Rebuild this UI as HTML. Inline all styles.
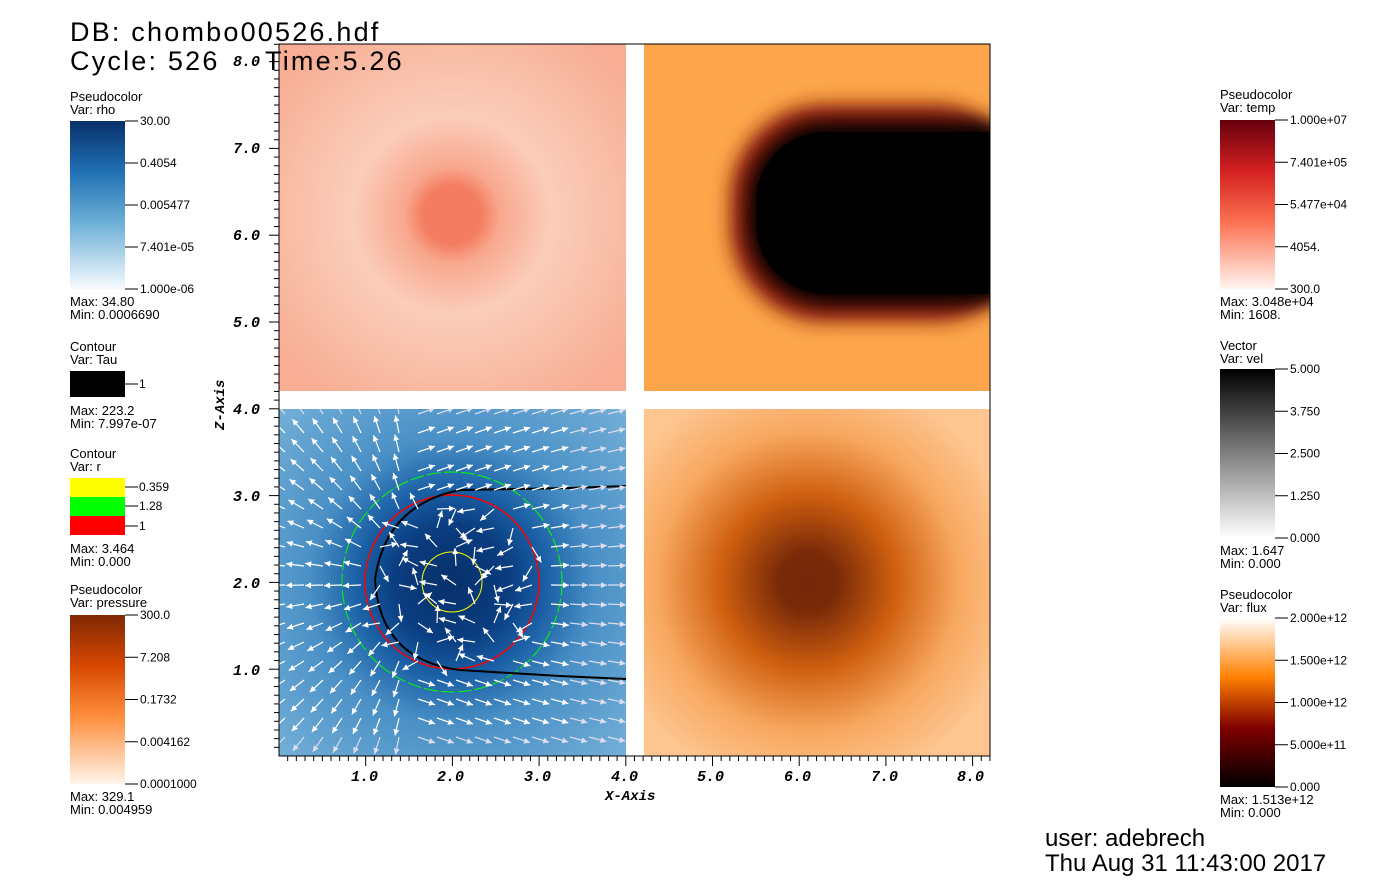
<!DOCTYPE html>
<html><head><meta charset="utf-8"><style>
body{margin:0;background:#fff;width:1395px;height:890px;overflow:hidden}
svg{display:block;font-family:"Liberation Sans",sans-serif}
.ax{font-family:"Liberation Mono",monospace;font-weight:bold;font-style:italic;font-size:15px}
.t{letter-spacing:2.2px}
</style></head><body>
<svg id="s" width="1395" height="890" xmlns="http://www.w3.org/2000/svg">
<defs>
<radialGradient id="gp" cx="452" cy="215" r="220" gradientUnits="userSpaceOnUse">
<stop offset="0" stop-color="#f47c60"/><stop offset="0.13" stop-color="#f47c60"/><stop offset="0.22" stop-color="#f8a88e"/><stop offset="0.45" stop-color="#fbcdbb"/><stop offset="0.7" stop-color="#f9bfa8"/><stop offset="1" stop-color="#f8ad94"/></radialGradient>
<radialGradient id="gb" cx="452" cy="582" r="260" gradientUnits="userSpaceOnUse">
<stop offset="0" stop-color="#08306b"/><stop offset="0.22" stop-color="#0a3d80"/><stop offset="0.36" stop-color="#1a5fa5"/><stop offset="0.55" stop-color="#4a90c6"/><stop offset="1" stop-color="#7ab4da"/></radialGradient>
<radialGradient id="gf" cx="808" cy="582" r="210" gradientUnits="userSpaceOnUse">
<stop offset="0" stop-color="#732608"/><stop offset="0.14" stop-color="#7a2a08"/><stop offset="0.42" stop-color="#d06010"/><stop offset="0.72" stop-color="#f8a860"/><stop offset="1" stop-color="#fdc590"/></radialGradient>
<linearGradient id="lrho" x1="0" y1="0" x2="0" y2="1"><stop offset="0" stop-color="#08306b"/><stop offset="0.3" stop-color="#2070b4"/><stop offset="0.6" stop-color="#6baed6"/><stop offset="1" stop-color="#f7fbff"/></linearGradient>
<linearGradient id="lpr" x1="0" y1="0" x2="0" y2="1"><stop offset="0" stop-color="#7f2704"/><stop offset="0.3" stop-color="#d94801"/><stop offset="0.6" stop-color="#fd8d3c"/><stop offset="1" stop-color="#fff5eb"/></linearGradient>
<linearGradient id="lt" x1="0" y1="0" x2="0" y2="1"><stop offset="0" stop-color="#67000d"/><stop offset="0.3" stop-color="#d42020"/><stop offset="0.6" stop-color="#fb7050"/><stop offset="1" stop-color="#fff5f0"/></linearGradient>
<linearGradient id="lv" x1="0" y1="0" x2="0" y2="1"><stop offset="0" stop-color="#000"/><stop offset="1" stop-color="#fff"/></linearGradient>
<linearGradient id="lf" x1="0" y1="0" x2="0" y2="1"><stop offset="0" stop-color="#fff"/><stop offset="0.35" stop-color="#ff8000"/><stop offset="0.65" stop-color="#800000"/><stop offset="1" stop-color="#000"/></linearGradient>
<filter id="bl"><feGaussianBlur stdDeviation="9"/></filter>
<clipPath id="ctr"><rect x="644" y="44" width="346" height="347"/></clipPath>
<clipPath id="cbl"><rect x="279" y="409" width="347" height="347"/></clipPath>
</defs>
<text class="t" x="70" y="41" font-size="27">DB: chombo00526.hdf</text>
<text class="t" x="70" y="70" font-size="27">Cycle: 526</text>
<rect x="279" y="44" width="347" height="347" fill="url(#gp)"/>
<rect x="644" y="44" width="346" height="347" fill="#fca54a"/>
<g clip-path="url(#ctr)">
<rect x="730" y="104" width="300" height="218" rx="95" fill="#8a1a08" filter="url(#bl)"/>
<rect x="748" y="122" width="300" height="182" rx="80" fill="#000" filter="url(#bl)"/>
<rect x="756" y="132" width="300" height="162" rx="70" fill="#000"/>
</g>
<rect x="279" y="409" width="347" height="347" fill="url(#gb)"/>
<rect x="644" y="409" width="346" height="347" fill="url(#gf)"/>
<g clip-path="url(#cbl)">
<circle cx="452" cy="582" r="110" fill="none" stroke="#00ff00" stroke-width="1" stroke-dasharray="14 3"/>
<circle cx="452" cy="582" r="87" fill="none" stroke="#ff0000" stroke-width="1.5"/>
<circle cx="452" cy="582" r="30" fill="none" stroke="#ffff00" stroke-width="1"/>
<path d="M626 486 L570 488 L460 490 Q385 505 375 580 Q380 660 460 670 L560 676 L626 679" fill="none" stroke="#000" stroke-width="2"/>
<g id="arr" stroke="#fff" fill="#fff" stroke-width="1.2"></g>
</g>
<text class="t" x="265" y="70" font-size="27">Time:5.26</text>
<g stroke="#000" fill="none"><path d="M279 44 V756 H990 V44 H279"/><g id="tk"></g></g>
<g class="ax">
<text x="233" y="66">8.0</text><text x="233" y="153">7.0</text><text x="233" y="240">6.0</text><text x="233" y="327">5.0</text><text x="233" y="414">4.0</text><text x="233" y="501">3.0</text><text x="233" y="588">2.0</text><text x="233" y="675">1.0</text>
<text x="351" y="781">1.0</text><text x="437" y="781">2.0</text><text x="524" y="781">3.0</text><text x="611" y="781">4.0</text><text x="697" y="781">5.0</text><text x="784" y="781">6.0</text><text x="871" y="781">7.0</text><text x="957" y="781">8.0</text>
<text x="605" y="800" font-size="14">X-Axis</text>
<text transform="translate(224,430) rotate(-90)" font-size="14">Z-Axis</text>
</g>
<g font-size="13">
<text x="70" y="101">Pseudocolor</text><text x="70" y="114">Var: rho</text>
<rect x="70" y="121" width="55" height="168" fill="url(#lrho)"/>
<text x="70" y="306">Max:  34.80</text><text x="70" y="319">Min:  0.0006690</text>
<text x="70" y="351">Contour</text><text x="70" y="364">Var: Tau</text>
<rect x="70" y="371" width="55" height="26" fill="#000"/>
<text x="70" y="415">Max:  223.2</text><text x="70" y="428">Min:  7.997e-07</text>
<text x="70" y="458">Contour</text><text x="70" y="471">Var: r</text>
<rect x="70" y="478" width="55" height="19" fill="#ffff00"/><rect x="70" y="497" width="55" height="19" fill="#00ff00"/><rect x="70" y="516" width="55" height="19" fill="#ff0000"/>
<text x="70" y="553">Max:  3.464</text><text x="70" y="566">Min:  0.000</text>
<text x="70" y="594">Pseudocolor</text><text x="70" y="607">Var: pressure</text>
<rect x="70" y="615" width="55" height="169" fill="url(#lpr)"/>
<text x="70" y="801">Max:  329.1</text><text x="70" y="814">Min:  0.004959</text>
<text x="1220" y="99">Pseudocolor</text><text x="1220" y="112">Var: temp</text>
<rect x="1220" y="120" width="55" height="169" fill="url(#lt)"/>
<text x="1220" y="306">Max:  3.048e+04</text><text x="1220" y="319">Min:  1608.</text>
<text x="1220" y="350">Vector</text><text x="1220" y="363">Var: vel</text>
<rect x="1220" y="369" width="55" height="169" fill="url(#lv)"/>
<text x="1220" y="555">Max:  1.647</text><text x="1220" y="568">Min:  0.000</text>
<text x="1220" y="599">Pseudocolor</text><text x="1220" y="612">Var: flux</text>
<rect x="1220" y="618" width="55" height="169" fill="url(#lf)"/>
<text x="1220" y="804">Max:  1.513e+12</text><text x="1220" y="817">Min:  0.000</text>
</g>
<g font-size="12" id="lg"></g>
<text x="1045" y="846" font-size="24">user: adebrech</text>
<text x="1045" y="871" font-size="24">Thu Aug 31 11:43:00 2017</text>
</svg>
<script>
var NS="http://www.w3.org/2000/svg";
function el(p,t,a,txt){var e=document.createElementNS(NS,t);for(var k in a)e.setAttribute(k,a[k]);if(txt)e.textContent=txt;p.appendChild(e);return e;}
var tk=document.getElementById('tk');
for(var i=1;i<=82;i++){var x=279+i*86.7/10,len=(i%10==0)?10:5;el(tk,'line',{x1:x,y1:756,x2:x,y2:756+len});}
for(var i=1;i<=82;i++){var y=756-i*86.8/10,len=(i%10==0)?10:5;el(tk,'line',{x1:279,y1:y,x2:279-len,y2:y});}
var lg=document.getElementById('lg');
function leg(x,y0,labels,h){for(var i=0;i<labels.length;i++){var y=y0+h*i/(labels.length-1);el(lg,'line',{x1:x+55,y1:y,x2:x+68,y2:y,stroke:'#000'});el(lg,'text',{x:x+70,y:y+4},labels[i]);}}
leg(70,121,["30.00","0.4054","0.005477","7.401e-05","1.000e-06"],168);
leg(70,615,["300.0","7.208","0.1732","0.004162","0.0001000"],169);
leg(1220,120,["1.000e+07","7.401e+05","5.477e+04","4054.","300.0"],169);
leg(1220,369,["5.000","3.750","2.500","1.250","0.000"],169);
leg(1220,618,["2.000e+12","1.500e+12","1.000e+12","5.000e+11","0.000"],169);
el(lg,'line',{x1:125,y1:384,x2:138,y2:384,stroke:'#000'});el(lg,'text',{x:139,y:388},"1");
[["0.359",487],["1.28",506],["1",526]].forEach(function(a){el(lg,'line',{x1:125,y1:a[1],x2:138,y2:a[1],stroke:'#000'});el(lg,'text',{x:139,y:a[1]+4},a[0]);});
var g=document.getElementById('arr');
for(var y=414;y<760;y+=19)for(var x=285;x<640;x+=19){
 var dx=x-452,dy=y-582,r=Math.sqrt(dx*dx+dy*dy)||1,ux,uy;
 if(r<90){var a=Math.sin(x*0.7+y*1.3)*3;ux=Math.cos(a);uy=Math.sin(a);}
 else if(x<410){var ex=x-430,ey=y-582,er=Math.sqrt(ex*ex+ey*ey)||1;ux=ex/er;uy=ey/er;}
 else {ux=1;uy=dy/r*0.35;var n=Math.sqrt(ux*ux+uy*uy);ux/=n;uy/=n;}
 var L=18,x2=x+ux*L,y2=y+uy*L,c=(x>560||y>720||y<420)?'#dde':'#fff';
 el(g,'line',{x1:x,y1:y,x2:x2,y2:y2,stroke:c});
 var px=-uy,py=ux;
 el(g,'polygon',{points:x2+','+y2+' '+(x2-ux*6+px*3)+','+(y2-uy*6+py*3)+' '+(x2-ux*6-px*3)+','+(y2-uy*6-py*3),fill:c,stroke:'none'});
}
</script>
</body></html>
